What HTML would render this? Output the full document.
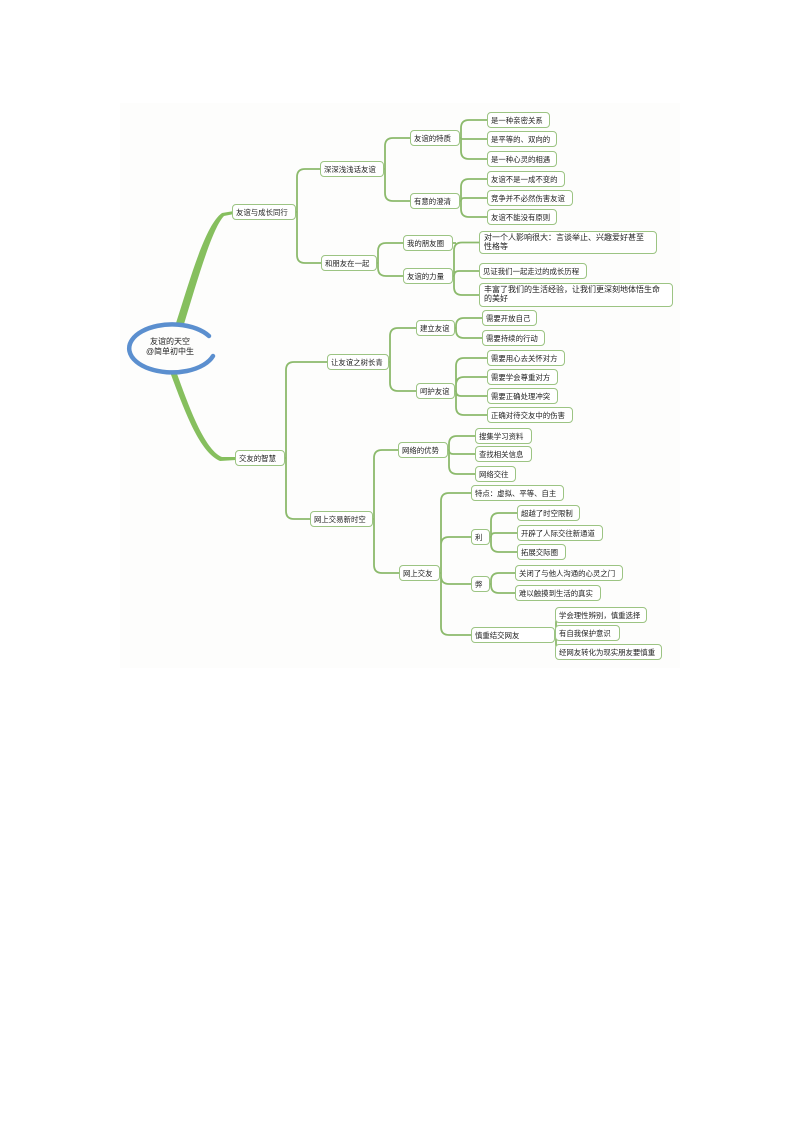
<!DOCTYPE html>
<html><head><meta charset="utf-8"><style>
html,body{margin:0;padding:0;background:#fff;}
#c{position:relative;width:794px;height:1123px;overflow:hidden;background:#fff;}
.n{position:absolute;box-sizing:border-box;border:1.3px solid #9cc483;border-radius:4px;background:#fff;font-family:"Liberation Sans","Noto Sans CJK SC",sans-serif;font-size:7.4px;line-height:9px;color:#222;padding:0 3px;display:flex;align-items:center;white-space:nowrap;overflow:hidden;}
.w{white-space:normal;align-items:flex-start;padding:2px 12px 0 4px;font-size:8px;line-height:8.5px;}
svg{position:absolute;left:0;top:0;}
.rt{position:absolute;left:130px;top:337px;width:80px;text-align:center;font-family:"Liberation Sans","Noto Sans CJK SC",sans-serif;font-size:8px;line-height:10px;color:#222;}
</style></head><body><div id="c">
<svg id="s" width="794" height="1123">
<rect x="120" y="103" width="560" height="565" fill="#fdfdfc"/>
<path d="M176,323 C190,280 205,225 222,213 L234,211 L234,214 L224,216 C212,228 196,285 184,324 Z" fill="#86bf5e"/>
<path d="M176,371 C190,410 205,450 222,457 L236,457 L236,460 L220,461 C200,452 186,415 170,372 Z" fill="#86bf5e"/>
<path d="M209,336 A43,24 0 1 0 213,356" fill="none" stroke="#5b8fcf" stroke-width="4.5" stroke-linecap="round"/>
</svg>
<div class="rt">友谊的天空<br>@简单初中生</div>
<div id="nodes"></div>
</div>
<script>
var N=[
["a","友谊与成长同行",232,296,212],
["b","交友的智慧",235,285,458],
["a1","深深浅浅话友谊",320,384,169],
["a2","和朋友在一起",321,377,263],
["b1","让友谊之树长青",327,389,362],
["b2","网上交易新时空",310,373,519],
["a11","友谊的特质",410,460,138],
["a12","有意的澄清",410,460,201],
["a21","我的朋友圈",403,453,243],
["a22","友谊的力量",403,453,276],
["l1","是一种亲密关系",487,550,120],
["l2","是平等的、双向的",487,557,139],
["l3","是一种心灵的相遇",487,557,159],
["l4","友谊不是一成不变的",487,565,179],
["l5","竞争并不必然伤害友谊",487,573,198],
["l6","友谊不能没有原则",487,557,217],
["l7","对一个人影响很大：言谈举止、兴趣爱好甚至性格等",479,657,242.5,23],
["l8","见证我们一起走过的成长历程",479,587,271],
["l9","丰富了我们的生活经验，让我们更深刻地体悟生命的美好",479,673,295,24],
["b11","建立友谊",416,455,328],
["b12","呵护友谊",416,455,391],
["m1","需要开放自己",482,537,318],
["m2","需要持续的行动",482,545,338],
["m3","需要用心去关怀对方",487,565,358],
["m4","需要学会尊重对方",487,558,377],
["m5","需要正确处理冲突",487,558,396],
["m6","正确对待交友中的伤害",487,573,415],
["b21","网络的优势",398,448,450],
["b22","网上交友",399,440,573],
["m7","搜集学习资料",475,532,436],
["m8","查找相关信息",475,532,454],
["m9","网络交往",475,516,474],
["c1","特点：虚拟、平等、自主",471,564,493],
["c2","利",471,490,537],
["c3","弊",471,490,584],
["c4","慎重结交网友",471,555,635],
["d1","超越了时空限制",517,580,513],
["d2","开辟了人际交往新通道",517,603,533],
["d3","拓展交际圈",517,566,552],
["d4","关闭了与他人沟通的心灵之门",515,623,573],
["d5","难以触摸到生活的真实",515,601,593],
["d6","学会理性辨别，慎重选择",555,647,615],
["d7","有自我保护意识",555,620,633],
["d8","经网友转化为现实朋友要慎重",555,662,652]
];
var M={},h='';
N.forEach(function(n){var H=n[5]||16;M[n[0]]=n;
h+='<div class="n'+(n[5]?' w':'')+'" style="left:'+n[2]+'px;top:'+(n[4]-H/2)+'px;width:'+(n[3]-n[2])+'px;height:'+H+'px">'+n[1]+'</div>';});
document.getElementById('nodes').innerHTML=h;
var E={a:["a1","a2"],b:["b1","b2"],a1:["a11","a12"],a2:["a21","a22"],b1:["b11","b12"],b2:["b21","b22"],
a11:["l1","l2","l3"],a12:["l4","l5","l6"],a22:["l7","l8","l9"],b11:["m1","m2"],b12:["m3","m4","m5","m6"],
b21:["m7","m8","m9"],b22:["c1","c2","c3","c4"],c2:["d1","d2","d3"],c3:["d4","d5"],c4:["d6","d7","d8"]};
var p='';
for(var k in E){var P=M[k],tx=P[3]+1,py=P[4];
E[k].forEach(function(c){var C=M[c],cy=C[4],r=Math.min(8,Math.abs(cy-py));
if(Math.abs(cy-py)<1){p+='M'+P[3]+','+py+'L'+C[2]+','+cy;return;}
var s=cy>py?1:-1;
p+='M'+P[3]+','+py+'L'+tx+','+py+'L'+tx+','+(cy-s*r)+'Q'+tx+','+cy+' '+(tx+r)+','+cy+'L'+C[2]+','+cy;});}
p+='M453,243 L456,243';
var e=document.createElementNS('http://www.w3.org/2000/svg','path');
e.setAttribute('d',p);e.setAttribute('fill','none');e.setAttribute('stroke','#8cba6c');e.setAttribute('stroke-width','1.8');
document.getElementById('s').appendChild(e);
</script>
</body></html>
